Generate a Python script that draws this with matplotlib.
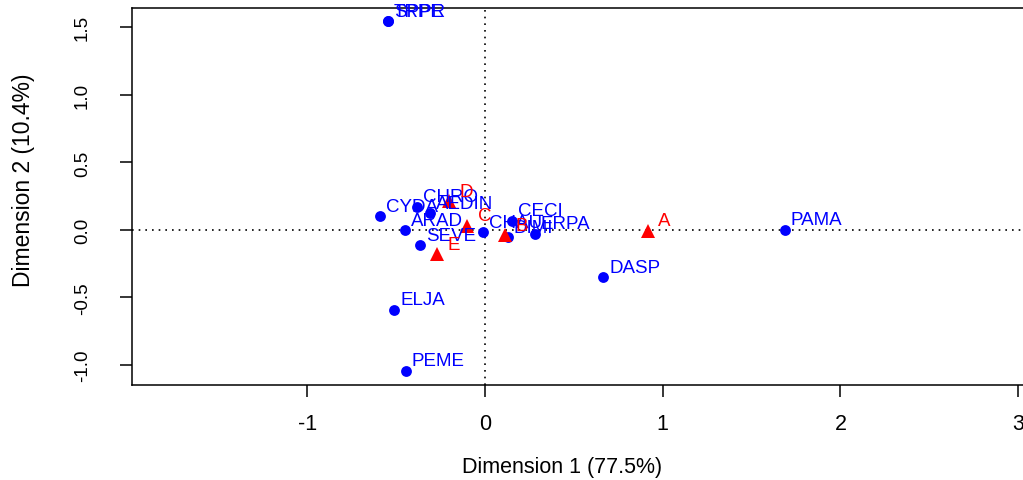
import matplotlib
matplotlib.use("Agg")
import matplotlib.pyplot as plt

plt.rcParams['font.family'] = ['Liberation Sans', 'DejaVu Sans']

# Column (species) points - blue dots
col_labels = ["SPPR", "TRPE", "CYDA", "CHRO", "AEDIN", "ARAD", "SEVE", "CHAU",
              "CECI", "DIMI", "ERPA", "PAMA", "DASP", "ELJA", "PEME"]
col_x = [-0.546, -0.546, -0.591, -0.383, -0.310, -0.450, -0.366, -0.011,
         0.152, 0.129, 0.281, 1.688, 0.664, -0.512, -0.445]
col_y = [1.547, 1.547, 0.103, 0.170, 0.125, -0.001, -0.112, -0.016,
         0.066, -0.053, -0.030, 0.000, -0.349, -0.593, -1.045]

# Row points - red triangles
row_labels = ["A", "B", "C", "D", "E"]
row_x = [0.917, 0.113, -0.101, -0.203, -0.270]
row_y = [-0.008, -0.038, 0.029, 0.214, -0.179]

x_ticks = [-1, 0, 1, 2, 3]
y_ticks = [-1.0, -0.5, 0.0, 0.5, 1.0, 1.5]
x_title = "Dimension 1 (77.5%)"
y_title = "Dimension 2 (10.4%)"

W, H = 1023, 481
fig = plt.figure(figsize=(W / 100, H / 100), dpi=100)
ax_l, ax_r, ax_t, ax_b = 132, 1030, 9, 386
ax = fig.add_axes([ax_l / W, (H - ax_b) / H, (ax_r - ax_l) / W, (ax_b - ax_t) / H])

ax.set_xlim(-1.987, 3.067)
ax.set_ylim(-1.149, 1.644)

ax.axhline(0, color='black', linestyle=(0, (1, 3)), linewidth=1.2, zorder=1)
ax.axvline(0, color='black', linestyle=(0, (1, 3)), linewidth=1.2, zorder=1)

ax.plot(col_x, col_y, linestyle='none', marker='o', markersize=7.8,
        color='#0000FF', markeredgewidth=0, zorder=3)
ax.plot(row_x, row_y, linestyle='none', marker='^', markersize=10,
        color='#FF0000', markeredgewidth=0, zorder=3)

for lab, x, y in zip(col_labels, col_x, col_y):
    ax.annotate(lab, (x, y), xytext=(4.3, 7.2), textcoords='offset points',
                ha='left', va='center', color='#0000FF', fontsize=13.5, zorder=4)
for lab, x, y in zip(row_labels, row_x, row_y):
    ax.annotate(lab, (x, y), xytext=(7.5, 7.2), textcoords='offset points',
                ha='left', va='center', color='#FF0000', fontsize=13.5, zorder=4)

ax.set_xticks(x_ticks)
ax.set_xticklabels([str(t).replace('\u2212', '-') for t in x_ticks])
ax.set_yticks(y_ticks)
ax.set_yticklabels(["%.1f" % t for t in y_ticks], rotation=90, va='center')

ax.tick_params(axis='x', direction='out', length=8.5, width=1.1, pad=12, labelsize=15.5)
ax.tick_params(axis='y', direction='out', length=8.5, width=1.1, pad=21, labelsize=13.5)

for s in ['left', 'bottom', 'top', 'right']:
    ax.spines[s].set_linewidth(1.1)
    ax.spines[s].set_color('black')

fig.text(562 / W, 1 - 468 / H, x_title, ha='center', va='center', fontsize=15.5)
fig.text(24 / W, 1 - 180 / H, y_title, ha='center', va='center', rotation=90, fontsize=16.5)

fig.savefig("out.png", dpi=100)
